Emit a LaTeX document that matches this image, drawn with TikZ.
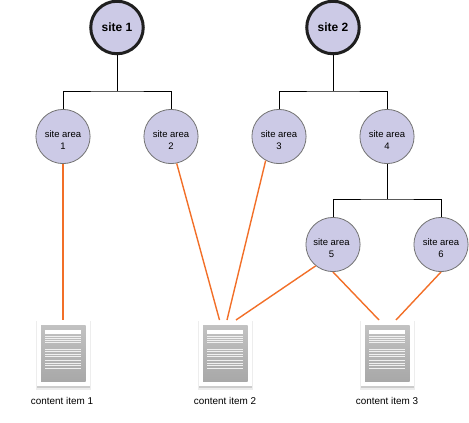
\documentclass[tikz,border=0pt]{standalone}
\usepackage{fontspec}
\setmainfont{Liberation Sans}
\definecolor{areafill}{HTML}{CCCAE6}
\definecolor{linkorange}{HTML}{F26F28}
\tikzset{
  x=1pt,y=-1pt,
  site/.style={circle,draw=black!88,line width=3pt,fill=areafill,minimum size=52.5pt,inner sep=0pt,font=\fontsize{12}{14}\selectfont\bfseries,align=center},
  area/.style={circle,draw=black!55,line width=0.8pt,fill=areafill,minimum size=54.2pt,inner sep=0pt,font=\fontsize{9.5}{12}\selectfont,align=center},
  tree/.style={draw=black,line width=0.9pt},
  link/.style={draw=linkorange,line width=1.4pt},
  docsheet/.style={rectangle,draw=none,fill=white,minimum width=53pt,minimum height=66pt,inner sep=0pt},
  doclabel/.style={font=\fontsize{9.9}{12}\selectfont,inner sep=0pt},
}
\newcommand{\arealabel}[1]{\rule{0pt}{14pt}site area\\#1}
\newcommand{\docicon}[3]{%
  \fill[black!7] (#1-27.5,#2-32) rectangle (#1+27.5,#2+37);
  \fill[black!20] (#1-26.5,#2-31) rectangle (#1+26.5,#2+35);
  \node[docsheet] (#3) at (#1,#2) {};
  \shade[top color=black!24,bottom color=black!34] (#1-22,#2-28) rectangle (#1+22.5,#2+28);
  \fill[white] (#1-18,#2-23) rectangle (#1+17.5,#2-19);
  \foreach \ly in {-16.7,-14.7,-12.3,-10.3,-3.7,-1.3,1.3,3.7,7.7,10.3,12.7,15}
    \fill[white!94!black] (#1-18,#2+\ly-0.4) rectangle (#1+17.5,#2+\ly+0.4);
}
\begin{document}
\begin{tikzpicture}
\useasboundingbox (0,0) rectangle (469,423);
\docicon{63}{353}{d1}
\docicon{225}{353}{d2}
\docicon{387}{353}{d3}
\node[site] (s1) at (117,27.5) {site 1};
\node[site] (s2) at (333,27.5) {site 2};
\node[area] (a1) at (63,136.5) {\arealabel{1}};
\node[area] (a2) at (171,136.5) {\arealabel{2}};
\node[area] (a3) at (279,136.5) {\arealabel{3}};
\node[area] (a4) at (387,136.5) {\arealabel{4}};
\node[area] (a5) at (333,244.5) {\hspace*{-3pt}\arealabel{\hspace*{-3pt}5}};
\node[area] (a6) at (441,244.5) {\arealabel{6}};
\node[doclabel] (l1) at (62,400.5) {content item 1};
\node[doclabel] (l2) at (225,400.5) {content item 2};
\node[doclabel] (l3) at (387,400.5) {content item 3};
\coordinate (j1) at (117,91);
\coordinate (j2) at (333,91);
\coordinate (j4) at (387,199);
\draw[tree] (s1.south) -- (j1);
\draw[tree] (a1.north) |- (j1) -| (a2.north);
\draw[tree] (s2.south) -- (j2);
\draw[tree] (a3.north) |- (j2) -| (a4.north);
\draw[tree] (a4.south) -- (j4);
\draw[tree] (a5.north) |- (j4) -| (a6.north);
\coordinate (e1) at (63,320);
\coordinate (e2a) at (219.5,320);
\coordinate (e2b) at (227,320);
\coordinate (e2c) at (236,320);
\coordinate (e3a) at (379,320);
\coordinate (e3b) at (396,320);
\draw[link] (a1.south) -- (e1);
\draw[link] (a2.-78) -- (e2a);
\draw[link] (a3.-119) -- (e2b);
\draw[link] (a5.-129) -- (e2c);
\draw[link] (a5.south) -- (e3a);
\draw[link] (a6.south) -- (e3b);
\end{tikzpicture}
\end{document}
